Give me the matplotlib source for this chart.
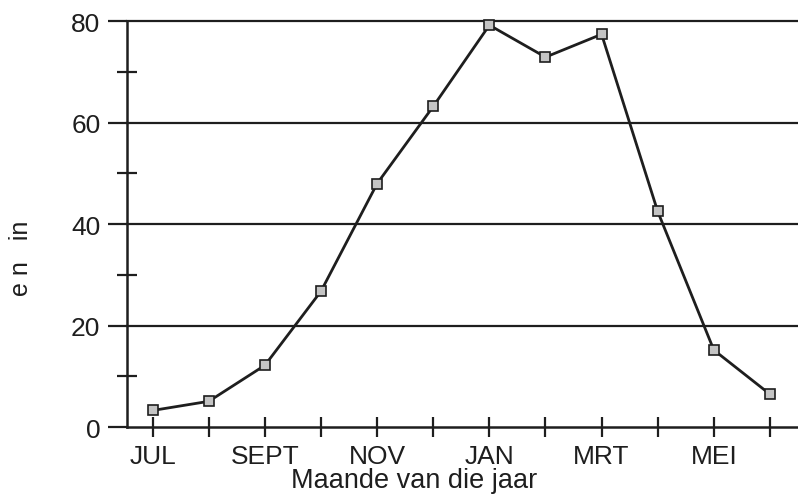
import matplotlib.pyplot as plt
import numpy as np
from matplotlib.ticker import MultipleLocator

plt.rcParams['font.family'] = ['Liberation Sans', 'DejaVu Sans']

# data
months = ['JUL', 'AUG', 'SEPT', 'OKT', 'NOV', 'DES',
          'JAN', 'FEB', 'MRT', 'APR', 'MEI', 'JUN']
values = [3.3, 5.1, 12.2, 26.8, 48.0, 63.2, 79.2, 72.9, 77.4, 42.5, 15.2, 6.5]
tick_labels = ['JUL', '', 'SEPT', '', 'NOV', '', 'JAN', '', 'MRT', '', 'MEI', '']
y_major = [0, 20, 40, 60, 80]

ink = '#1e1e1e'

fig = plt.figure(figsize=(7.98, 5.02), dpi=100)
ax = fig.add_axes([0.159, 0.147, 0.841, 0.809])

x = np.arange(len(months))
for y in y_major[1:]:
    ax.axhline(y, color=ink, lw=1.6, zorder=1, clip_on=False)

ax.plot(x, values, color=ink, lw=2.0, marker='s', ms=7,
        mfc='#c4c4c4', mec=ink, mew=1.2, zorder=3, clip_on=False)

ax.set_xlim(-0.46, 11.5)
ax.set_ylim(0, 80)

for s in ['top', 'right']:
    ax.spines[s].set_visible(False)
for s in ['left', 'bottom']:
    ax.spines[s].set_linewidth(1.8)
    ax.spines[s].set_color(ink)

ax.set_yticks(y_major)
ax.yaxis.set_minor_locator(MultipleLocator(10))
ax.tick_params(axis='y', which='major', direction='out', length=14, width=1.6,
               labelsize=19, pad=5, colors=ink)
ax.tick_params(axis='y', which='minor', direction='inout', length=14, width=1.6,
               color=ink)

ax.set_xticks(x)
ax.set_xticklabels(tick_labels)
ax.tick_params(axis='x', which='major', direction='inout', length=14, width=1.6,
               labelsize=19, pad=5, colors=ink)

ax.set_xlabel('Maande van die jaar', fontsize=19.5, color=ink)
ax.xaxis.set_label_coords((414 - 127) / 671, -0.098)
fig.text(0.026, 0.486, 'e n   in', rotation=90, fontsize=18, color=ink,
         ha='center', va='center')

fig.savefig('out.png', dpi=100)
